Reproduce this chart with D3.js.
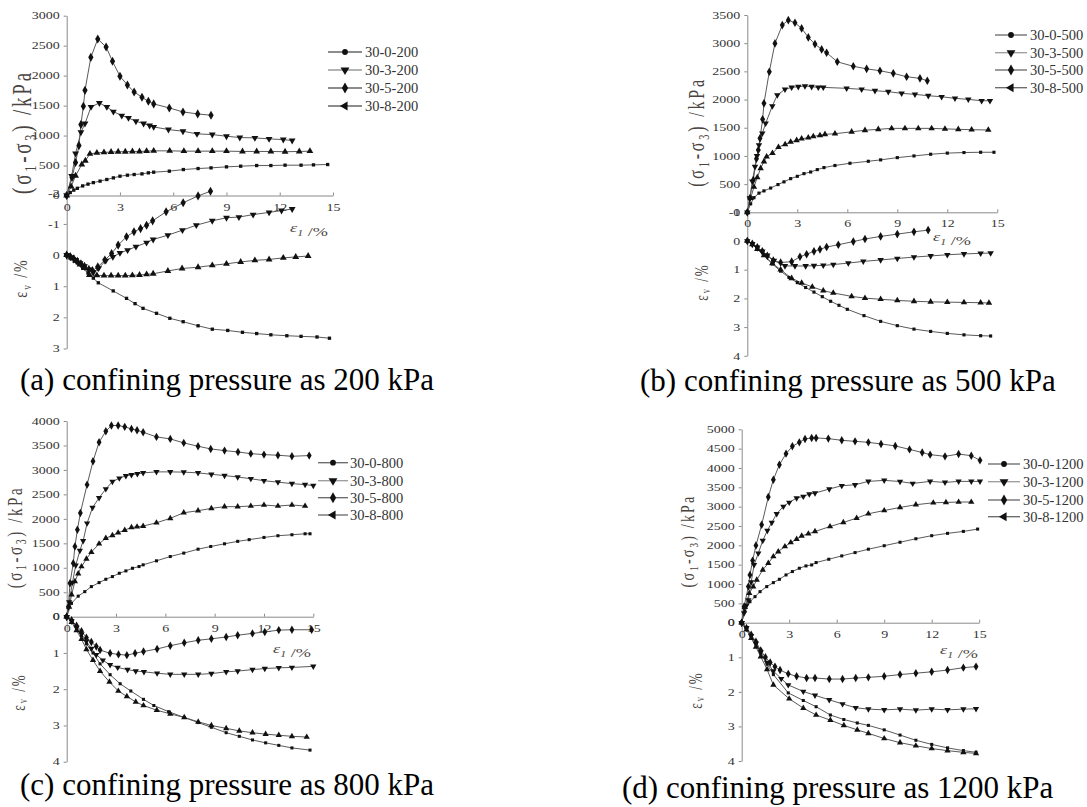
<!DOCTYPE html>
<html>
<head>
<meta charset="utf-8">
<script src="https://cdn.jsdelivr.net/npm/d3@7"></script>
<style>
  body { margin: 0; background: #fff; }
  svg { display: block; }
</style>
</head>
<body>
<svg id="chart" width="1087" height="807"></svg>
<script>
// ---- categories / ticks ----
const SERIES = ['30-0', '30-3', '30-5', '30-8'];
const PRESSURES = [200, 500, 800, 1200];
const CAPTIONS = [
  '(a) confining pressure as 200 kPa',
  '(b) confining pressure as 500 kPa',
  '(c) confining pressure as 800 kPa',
  '(d) confining pressure as 1200 kPa'
];
const STRAIN_TICKS = [0, 3, 6, 9, 12, 15];
const STRESS_TICKS_A = [0, 500, 1000, 1500, 2000, 2500, 3000];
const STRESS_TICKS_B = [0, 500, 1000, 1500, 2000, 2500, 3000, 3500];
const STRESS_TICKS_C = [0, 500, 1000, 1500, 2000, 2500, 3000, 3500, 4000];
const STRESS_TICKS_D = [0, 500, 1000, 1500, 2000, 2500, 3000, 3500, 4000, 4500, 5000];
const VOL_TICKS_A = [-2, -1, 0, 1, 2, 3];
const VOL_TICKS_B = [-1, 0, 1, 2, 3, 4];
const VOL_TICKS_C = [0, 1, 2, 3, 4];
const VOL_TICKS_D = [0, 1, 2, 3, 4];

// ---- (a) 200 kPa : [axial strain %, deviator stress kPa] / [axial strain %, volumetric strain %] ----
const a_dev_0 = [[0,0],[0.2,50],[0.4,90],[0.6,120],[0.9,160],[1.2,190],[1.5,215],[1.88,240],[2.26,267],[2.63,294],[3.0,322],[3.42,339],[3.8,350],[4.24,361],[4.6,378],[4.9,389],[5.78,406],[6.57,433],[7.4,450],[8.13,461],[9.0,478],[9.8,489],[10.7,500],[11.5,500],[12.3,506],[13.2,506],[13.9,511],[14.7,517]];
const a_dev_3 = [[0,0],[0.28,325],[0.5,700],[0.8,1056],[1.03,1200],[1.37,1478],[1.84,1544],[2.26,1478],[2.63,1400],[3.1,1333],[3.48,1294],[3.9,1239],[4.33,1200],[4.67,1167],[4.9,1144],[5.73,1100],[6.55,1072],[7.34,1028],[8.2,1017],[9.0,989],[9.75,967],[10.6,961],[11.4,945],[12.2,933],[12.7,917]];
const a_dev_5 = [[0,0],[0.3,300],[0.5,550],[0.69,833],[0.8,1183],[0.94,1489],[1.03,1755],[1.36,2305],[1.75,2611],[2.22,2478],[2.58,2239],[3.0,1989],[3.42,1844],[3.8,1728],[4.24,1639],[4.6,1572],[4.9,1528],[5.78,1461],[6.55,1394],[7.38,1361],[8.13,1339]];
const a_dev_8 = [[0,0],[0.25,150],[0.5,330],[0.85,517],[1.05,580],[1.31,694],[1.7,711],[2.1,720],[2.5,725],[2.9,730],[3.3,730],[3.7,735],[4.1,735],[4.5,740],[4.9,745],[5.8,745],[6.6,740],[7.4,740],[8.2,740],[9.0,740],[9.9,735],[10.7,735],[11.5,735],[12.3,730],[13.1,735],[13.7,740]];
const a_vol_0 = [[0,0],[0.3,0.1],[0.6,0.25],[0.9,0.42],[1.2,0.58],[1.5,0.74],[1.78,0.89],[2.62,1.15],[3.37,1.39],[3.85,1.56],[4.3,1.71],[5.06,1.87],[5.81,2.03],[6.56,2.14],[7.4,2.27],[8.2,2.38],[9.07,2.42],[9.9,2.48],[10.7,2.52],[11.5,2.56],[12.4,2.59],[13.2,2.61],[14.1,2.63],[14.8,2.67]];
const a_vol_3 = [[0,0],[0.25,0.07],[0.5,0.16],[0.75,0.26],[1.0,0.36],[1.25,0.46],[1.5,0.55],[1.8,0.42],[2.2,0.18],[2.6,0.06],[3.0,-0.07],[3.43,-0.16],[3.9,-0.27],[4.5,-0.4],[4.87,-0.5],[5.7,-0.64],[6.52,-0.8],[7.3,-0.96],[8.2,-1.1],[9.0,-1.2],[9.7,-1.22],[10.5,-1.3],[11.4,-1.37],[12.1,-1.43],[12.7,-1.48]];
const a_vol_5 = [[0,0],[0.2,0.05],[0.4,0.12],[0.6,0.2],[0.8,0.28],[1.0,0.36],[1.25,0.46],[1.45,0.5],[1.75,0.38],[2.15,0.16],[2.53,-0.05],[2.9,-0.32],[3.37,-0.59],[3.79,-0.75],[4.16,-0.85],[4.5,-0.96],[4.84,-1.1],[5.6,-1.39],[6.56,-1.68],[7.4,-1.9],[8.1,-2.05]];
const a_vol_8 = [[0,0],[0.25,0.08],[0.5,0.18],[0.75,0.3],[1.0,0.42],[1.28,0.64],[1.7,0.65],[2.1,0.66],[2.5,0.66],[2.9,0.66],[3.3,0.66],[3.7,0.65],[4.1,0.64],[4.5,0.62],[4.87,0.6],[5.7,0.51],[6.5,0.43],[7.4,0.39],[8.2,0.33],[9.0,0.28],[9.8,0.22],[10.6,0.17],[11.4,0.14],[12.2,0.09],[12.9,0.06],[13.6,0.03]];

// ---- (b) 500 kPa ----
const b_dev_0 = [[0,0],[0.2,150],[0.4,260],[0.7,340],[1.0,380],[1.4,430],[1.84,492],[2.2,540],[2.6,597],[3.0,638],[3.4,686],[3.8,715],[4.2,757],[4.6,793],[5.26,830],[6.16,870],[7.26,905],[8,930],[9,970],[10,1000],[11,1030],[12,1050],[13,1060],[14,1065],[14.8,1065]];
const b_dev_3 = [[0,0],[0.15,250],[0.3,550],[0.46,809],[0.58,1000],[0.7,1193],[0.9,1400],[1.1,1578],[1.5,1885],[1.8,2080],[2.26,2181],[2.66,2216],[3.06,2228],[3.46,2240],[3.86,2228],[4.26,2216],[4.56,2216],[5.96,2199],[6.86,2181],[7.66,2157],[8.46,2140],[9.26,2110],[10.06,2092],[10.86,2068],[11.66,2050],[12.46,2021],[13.26,2003],[14.06,1979],[14.56,1979]];
const b_dev_5 = [[0,0],[0.15,250],[0.36,573],[0.55,950],[0.66,1105],[0.76,1312],[0.92,1649],[1.0,1933],[1.32,2493],[1.66,2996],[2.1,3321],[2.46,3409],[2.86,3362],[3.26,3262],[3.66,3103],[4.06,2984],[4.46,2890],[4.76,2830],[5.4,2670],[6.36,2590],[7.16,2545],[7.96,2511],[8.76,2465],[9.56,2405],[10.36,2376],[10.8,2333]];
const b_dev_8 = [[0,0],[0.2,250],[0.4,450],[0.6,620],[0.8,780],[1.0,900],[1.16,986],[1.51,1050],[1.87,1156],[2.27,1205],[2.6,1247],[2.96,1277],[3.26,1305],[3.66,1323],[3.96,1347],[4.36,1365],[4.66,1383],[5.26,1394],[6.26,1428],[7.06,1455],[7.86,1472],[8.66,1489],[9.46,1489],[10.26,1489],[11.06,1489],[11.86,1480],[12.66,1472],[13.46,1465],[14.46,1460]];
const b_vol_0 = [[0,0],[0.3,0.12],[0.6,0.28],[1.0,0.5],[1.5,0.8],[2.0,1.05],[2.5,1.27],[3.0,1.45],[3.5,1.62],[4.0,1.78],[4.5,1.94],[5.0,2.1],[5.5,2.24],[6.0,2.38],[7.0,2.6],[8,2.8],[9,2.95],[10,3.07],[11,3.15],[12,3.22],[13,3.27],[14,3.3],[14.6,3.31]];
const b_vol_3 = [[0,0],[0.3,0.1],[0.6,0.22],[0.9,0.36],[1.2,0.5],[1.6,0.68],[2.26,0.87],[2.86,0.87],[3.5,0.87],[4.0,0.86],[4.56,0.85],[5.16,0.82],[6.06,0.77],[6.96,0.71],[8,0.66],[9,0.61],[10,0.56],[11,0.52],[12,0.48],[13,0.45],[14,0.43],[14.6,0.42]];
const b_vol_5 = [[0,0],[0.3,0.1],[0.6,0.22],[0.9,0.36],[1.2,0.52],[1.56,0.68],[2.0,0.75],[2.66,0.72],[3.16,0.55],[3.56,0.46],[4.0,0.36],[4.36,0.29],[4.76,0.21],[5.46,0.13],[6.36,0.02],[7.06,-0.07],[8,-0.16],[9,-0.24],[10,-0.32],[10.85,-0.38]];
const b_vol_8 = [[0,0],[0.3,0.12],[0.6,0.28],[1.0,0.5],[1.5,0.78],[2.0,1.0],[2.66,1.3],[3.26,1.46],[3.9,1.6],[4.56,1.73],[5.16,1.81],[6.26,1.93],[7.06,1.99],[8,2.03],[9,2.07],[10,2.1],[11,2.12],[12,2.13],[13,2.14],[14,2.15],[14.5,2.16]];

// ---- (c) 800 kPa ----
const c_dev_0 = [[0,0],[0.29,274],[0.7,420],[1.1,512],[1.5,615],[1.97,697],[2.38,765],[2.78,820],[3.2,888],[3.6,936],[4.0,990],[4.4,1025],[4.65,1060],[5.46,1142],[6.3,1230],[7.12,1300],[7.99,1380],[8.76,1435],[9.6,1490],[10.4,1540],[11.1,1575],[12.0,1620],[12.85,1655],[13.7,1675],[14.5,1695],[14.8,1695]];
const c_dev_3 = [[0,0],[0.15,300],[0.35,700],[0.55,1050],[0.8,1350],[1.0,1550],[1.24,1910],[1.57,2230],[1.97,2430],[2.38,2610],[2.78,2760],[3.2,2830],[3.6,2880],[3.94,2900],[4.3,2920],[4.65,2940],[5.46,2960],[6.3,2960],[7.12,2955],[7.99,2940],[8.8,2910],[9.6,2885],[10.4,2855],[11.2,2820],[12.0,2780],[12.85,2750],[13.7,2720],[14.5,2700],[15.0,2680]];
const c_dev_5 = [[0,0],[0.1,205],[0.2,684],[0.4,1094],[0.5,1434],[0.65,1776],[0.83,2118],[1.24,2699],[1.6,3176],[1.97,3566],[2.38,3791],[2.72,3908],[3.13,3908],[3.53,3880],[3.94,3839],[4.28,3811],[4.65,3770],[5.46,3675],[6.3,3634],[7.12,3552],[7.99,3484],[8.76,3429],[9.6,3395],[10.42,3367],[11.2,3333],[12.0,3313],[12.85,3300],[13.7,3279],[14.75,3293]];
const c_dev_8 = [[0,0],[0.15,200],[0.3,450],[0.5,720],[0.7,880],[0.9,1025],[1.2,1180],[1.5,1320],[1.97,1490],[2.38,1605],[2.78,1660],[3.13,1715],[3.53,1770],[3.94,1824],[4.28,1838],[4.65,1852],[5.46,1920],[6.3,2010],[7.12,2125],[7.99,2166],[8.8,2214],[9.6,2249],[10.4,2249],[11.2,2262],[12.0,2283],[12.85,2262],[13.7,2283],[14.5,2262]];
const c_vol_0 = [[0,0],[0.3,0.12],[0.6,0.32],[0.9,0.52],[1.2,0.75],[1.6,1.0],[2.03,1.3],[2.64,1.6],[3.25,1.85],[3.9,2.05],[4.67,2.28],[5.3,2.45],[6.2,2.62],[7.15,2.78],[8.0,2.92],[8.8,3.05],[9.7,3.2],[10.5,3.3],[11.3,3.4],[12.1,3.48],[12.9,3.55],[13.7,3.62],[14.8,3.68]];
const c_vol_3 = [[0,0],[0.3,0.12],[0.6,0.3],[0.9,0.48],[1.2,0.68],[1.5,0.88],[1.8,1.05],[2.2,1.2],[2.64,1.33],[3.1,1.4],[3.7,1.46],[4.2,1.5],[4.7,1.52],[5.5,1.56],[6.3,1.59],[7.15,1.59],[8.0,1.59],[8.8,1.57],[9.7,1.52],[10.4,1.5],[11.3,1.46],[12.05,1.43],[12.9,1.41],[13.7,1.4],[15.0,1.37]];
const c_vol_5 = [[0,0],[0.3,0.1],[0.6,0.25],[0.9,0.4],[1.2,0.58],[1.5,0.7],[1.8,0.82],[2.03,0.92],[2.64,1.01],[3.15,1.04],[3.66,1.06],[4.16,1.01],[4.67,0.96],[5.5,0.89],[6.3,0.8],[7.15,0.72],[8.0,0.65],[8.8,0.61],[9.7,0.56],[10.4,0.51],[11.3,0.46],[12.05,0.42],[12.9,0.37],[13.7,0.36],[14.9,0.36]];
const c_vol_8 = [[0,0],[0.3,0.15],[0.6,0.38],[0.9,0.62],[1.2,0.9],[1.6,1.2],[2.03,1.5],[2.6,1.8],[3.14,2.05],[3.66,2.2],[4.2,2.35],[4.67,2.45],[5.48,2.58],[6.3,2.68],[7.15,2.78],[8.0,2.9],[8.8,3.0],[9.7,3.08],[10.5,3.15],[11.3,3.2],[12.1,3.24],[12.9,3.27],[13.7,3.3],[14.6,3.32]];

// ---- (d) 1200 kPa ----
const d_dev_0 = [[0,0],[0.2,300],[0.52,544],[0.84,674],[1.16,803],[1.58,933],[2.0,1036],[2.38,1122],[2.8,1235],[3.2,1322],[3.64,1408],[4.06,1468],[4.42,1494],[4.7,1555],[5.5,1640],[6.32,1727],[7.16,1813],[8.0,1900],[9,1990],[10,2080],[11,2170],[12,2250],[13,2310],[14,2360],[14.9,2420]];
const d_dev_3 = [[0,0],[0.15,250],[0.3,450],[0.42,588],[0.6,1050],[0.78,1495],[1.05,1797],[1.33,2124],[1.62,2383],[1.9,2590],[2.21,2816],[2.63,3005],[3.0,3109],[3.47,3223],[3.89,3264],[4.27,3326],[4.63,3352],[5.53,3456],[6.32,3541],[7.16,3566],[8.0,3653],[9,3680],[10,3650],[10.8,3600],[11.9,3653],[12.84,3627],[13.7,3653],[14.5,3653],[15.05,3653]];
const d_dev_5 = [[0,0],[0.15,415],[0.42,933],[0.52,1236],[0.69,1606],[0.9,1995],[1.26,2531],[1.68,3249],[2.0,3697],[2.38,4085],[2.8,4370],[3.2,4560],[3.64,4663],[4.0,4751],[4.42,4777],[4.7,4777],[5.47,4759],[6.32,4715],[7.16,4689],[8.0,4663],[8.8,4620],[9.7,4570],[10.6,4480],[11.4,4400],[11.9,4345],[12.84,4301],[13.7,4360],[14.5,4318],[15.05,4197]];
const d_dev_8 = [[0,0],[0.2,400],[0.48,761],[0.73,933],[0.95,1106],[1.33,1365],[1.68,1538],[2.0,1710],[2.31,1839],[2.73,1969],[3.1,2073],[3.47,2160],[3.79,2246],[4.21,2298],[4.63,2358],[5.58,2487],[6.42,2591],[7.26,2704],[8.0,2816],[9,2900],[10,2980],[11,3050],[12.1,3100],[12.9,3110],[13.7,3120],[14.5,3120]];
const d_vol_0 = [[0,0],[0.3,0.16],[0.6,0.4],[0.9,0.62],[1.2,0.88],[1.6,1.2],[2.0,1.5],[2.94,2.03],[3.89,2.25],[4.7,2.43],[5.6,2.67],[6.45,2.8],[7.3,2.9],[8.0,2.97],[9,3.1],[10,3.25],[11,3.4],[12,3.52],[13,3.62],[14,3.7],[14.8,3.75]];
const d_vol_3 = [[0,0],[0.3,0.15],[0.6,0.38],[0.9,0.6],[1.2,0.85],[1.6,1.15],[2.0,1.4],[2.5,1.62],[2.94,1.8],[3.89,1.99],[4.63,2.1],[5.53,2.23],[6.37,2.35],[7.2,2.46],[8.0,2.5],[9,2.52],[10,2.5],[11,2.53],[12,2.5],[13,2.52],[14,2.5],[14.8,2.49]];
const d_vol_5 = [[0,0],[0.3,0.15],[0.6,0.35],[0.9,0.55],[1.2,0.8],[1.5,1.0],[1.8,1.15],[2.1,1.27],[2.42,1.37],[2.94,1.48],[3.47,1.55],[4.1,1.6],[4.63,1.6],[5.53,1.63],[6.37,1.63],[7.2,1.6],[8.0,1.58],[9,1.55],[10,1.5],[11,1.46],[12,1.42],[13,1.37],[14,1.3],[14.8,1.27]];
const d_vol_8 = [[0,0],[0.3,0.2],[0.6,0.45],[0.9,0.7],[1.2,0.98],[1.6,1.35],[2.0,1.8],[3.0,2.2],[3.89,2.47],[4.7,2.67],[5.6,2.82],[6.45,2.97],[7.3,3.1],[8.0,3.2],[9,3.35],[10,3.47],[11,3.56],[12,3.64],[13,3.7],[14,3.75],[14.8,3.78]];

// ---- layout of the four scanned sub-figures (pixel positions) ----
const FONT = '"Liberation Serif", "Times New Roman", serif';
const HS = 1.4;            // scanned figures are stretched horizontally
const LINE = '#5a5a5a', INK = '#111', AXIS = '#8a8a8a', LABEL = '#4a4542';

const panels = [
  { x0: 66.7, x15: 333, y0: 195.5, yTop: 15.7, vTop: 192.8, vBot: 348.5,
    qTicks: STRESS_TICKS_A, vTicks: VOL_TICKS_A, dev: [a_dev_0, a_dev_3, a_dev_5, a_dev_8], vol: [a_vol_0, a_vol_3, a_vol_5, a_vol_8],
    leg: { x1: 328, x2: 362, tx: 365, ys: [52, 70, 88, 106] },
    eps: [290, 232], ev: [22, 278, 14], q: [25, 132, 19, 2.8], cap: [20, 390], ms: 1 },
  { x0: 747.3, x15: 997.3, y0: 212.3, yTop: 15, vTop: 212.3, vBot: 355.8,
    qTicks: STRESS_TICKS_B, vTicks: VOL_TICKS_B, dev: [b_dev_0, b_dev_3, b_dev_5, b_dev_8], vol: [b_vol_0, b_vol_3, b_vol_5, b_vol_8],
    leg: { x1: 995, x2: 1027, tx: 1030, ys: [35, 52.7, 70, 87.7] },
    eps: [933, 241], ev: [703, 282, 13], q: [699, 132, 16, 2.8], cap: [640, 391], ms: 0.9 },
  { x0: 66.7, x15: 313.3, y0: 616.7, yTop: 421, vTop: 616.7, vBot: 761.7,
    qTicks: STRESS_TICKS_C, vTicks: VOL_TICKS_C, dev: [c_dev_0, c_dev_3, c_dev_5, c_dev_8], vol: [c_vol_0, c_vol_3, c_vol_5, c_vol_8],
    leg: { x1: 318, x2: 348, tx: 350, ys: [462.7, 480.7, 497.7, 515] },
    eps: [273, 653], ev: [20, 692, 13], q: [17, 537, 15, 2.6], cap: [20, 795], ms: 0.85 },
  { x0: 741.7, x15: 979.2, y0: 622.7, yTop: 429.3, vTop: 622.7, vBot: 761,
    qTicks: STRESS_TICKS_D, vTicks: VOL_TICKS_D, dev: [d_dev_0, d_dev_3, d_dev_5, d_dev_8], vol: [d_vol_0, d_vol_3, d_vol_5, d_vol_8],
    leg: { x1: 988, x2: 1020, tx: 1023, ys: [464, 481.7, 500, 516.7] },
    eps: [940, 654], ev: [697, 690, 13], q: [689, 541, 14, 2.2], cap: [622, 798], ms: 0.85 }
];

const svg = d3.select('#chart');

// plot markers (legend uses a circle for 30-0 and a left triangle for 30-8)
function plotMarker(i, k) {
  if (i === 0) return { d: d3.symbol(d3.symbolSquare, 11 * k)(), rot: 0 };
  if (i === 1) return { d: d3.symbol(d3.symbolTriangle, 20 * k)(), rot: 180 };
  if (i === 2) return { d: d3.symbol(d3.symbolDiamond, 24 * k)(), rot: 0 };
  return { d: d3.symbol(d3.symbolTriangle, 20 * k)(), rot: 0 };
}
function legendMarker(i) {
  if (i === 0) return { d: d3.symbol(d3.symbolCircle, 26)(), rot: 0 };
  if (i === 1) return { d: d3.symbol(d3.symbolTriangle, 34)(), rot: 180 };
  if (i === 2) return { d: d3.symbol(d3.symbolDiamond, 34)(), rot: 0 };
  return { d: d3.symbol(d3.symbolTriangle, 34)(), rot: -90 };
}

// text with subscripts: parts = [[text, isSub], ...]
function rich(sel, parts, fs) {
  let down = false;
  parts.forEach(([t, sub]) => {
    const ts = sel.append('tspan').text(t);
    if (sub) { ts.attr('font-size', fs * 0.65).attr('dy', down ? 0 : fs * 0.28); down = true; }
    else { ts.attr('font-size', fs).attr('dy', down ? -fs * 0.28 : 0); down = false; }
  });
}

function styleTicks(g) {
  g.select('.domain').attr('stroke', AXIS);
  g.selectAll('.tick line').attr('stroke', AXIS);
  g.selectAll('.tick text')
    .attr('font-family', FONT).attr('font-size', 10).attr('fill', '#333')
    .attr('transform', `scale(${HS},1)`);
}
const plain = d => String(d);   // hyphen-minus, as in the scanned figure

panels.forEach((p, pi) => {
  const g = svg.append('g');
  const x = d3.scaleLinear().domain([0, 15]).range([p.x0, p.x15]);
  const yq = d3.scaleLinear().domain([0, d3.max(p.qTicks)]).range([p.y0, p.yTop]);
  const yv = d3.scaleLinear().domain(d3.extent(p.vTicks)).range([p.vTop, p.vBot]);

  // axes
  g.append('g').attr('transform', `translate(${p.x0},0)`)
    .call(d3.axisLeft(yq).tickValues(p.qTicks).tickSizeInner(3).tickSizeOuter(0).tickPadding(2).tickFormat(plain))
    .call(styleTicks);
  g.append('g').attr('transform', `translate(${p.x0},0)`)
    .call(d3.axisLeft(yv).tickValues(p.vTicks).tickSizeInner(3).tickSizeOuter(0).tickPadding(2).tickFormat(plain))
    .call(styleTicks);
  g.append('g').attr('transform', `translate(0,${p.y0})`)
    .call(d3.axisBottom(x).tickValues(STRAIN_TICKS).tickSizeInner(-3).tickSizeOuter(0).tickPadding(8).tickFormat(plain))
    .call(styleTicks);

  // curves
  const lq = d3.line().x(d => x(d[0])).y(d => yq(d[1]));
  const lv = d3.line().x(d => x(d[0])).y(d => yv(d[1]));
  const curves = [];
  SERIES.forEach((s, i) => {
    curves.push({ i, data: p.dev[i], line: lq, ys: yq });
    curves.push({ i, data: p.vol[i], line: lv, ys: yv });
  });
  curves.forEach(c => {
    g.append('path').datum(c.data)
      .attr('d', c.line).attr('fill', 'none')
      .attr('stroke', LINE).attr('stroke-width', 1);
  });
  curves.forEach(c => {
    const m = plotMarker(c.i, p.ms);
    g.append('g').selectAll('path').data(c.data).join('path')
      .attr('d', m.d)
      .attr('transform', d => `translate(${x(d[0])},${c.ys(d[1])}) rotate(${m.rot})`)
      .attr('fill', INK);
  });

  // axis titles
  const et = g.append('text')
    .attr('transform', `translate(${p.eps[0]},${p.eps[1]}) scale(${HS},1)`)
    .attr('font-family', FONT).attr('fill', LABEL);
  rich(et.append('tspan').attr('font-style', 'italic'), [['ε', false], ['1', true]], 13);
  et.append('tspan').attr('font-size', 13).attr('dy', 0).text(' /%');

  const vt = g.append('text')
    .attr('transform', `translate(${p.ev[0]},${p.ev[1]}) scale(${HS},1) rotate(-90)`)
    .attr('text-anchor', 'middle').attr('dominant-baseline', 'middle')
    .attr('font-family', FONT).attr('fill', LABEL).attr('letter-spacing', 2);
  rich(vt, [['ε', false], ['v', true], [' /%', false]], p.ev[2]);

  const qt = g.append('text')
    .attr('transform', `translate(${p.q[0]},${p.q[1]}) scale(${HS},1) rotate(-90)`)
    .attr('text-anchor', 'middle').attr('dominant-baseline', 'middle')
    .attr('font-family', FONT).attr('fill', LABEL).attr('letter-spacing', p.q[3]);
  rich(qt, [['(σ', false], ['1', true], ['-σ', false], ['3', true], [') /kPa', false]], p.q[2]);

  // legend
  SERIES.forEach((s, i) => {
    const y = p.leg.ys[i];
    g.append('line').attr('x1', p.leg.x1).attr('x2', p.leg.x2).attr('y1', y).attr('y2', y)
      .attr('stroke', i === 1 ? '#9a9a9a' : '#666').attr('stroke-width', 1.3);
    const m = legendMarker(i);
    g.append('path').attr('d', m.d)
      .attr('transform', `translate(${(p.leg.x1 + p.leg.x2) / 2},${y}) rotate(${m.rot})`)
      .attr('fill', INK);
    g.append('text').attr('x', p.leg.tx).attr('y', y).attr('dy', '0.34em')
      .attr('font-family', FONT).attr('font-size', 14.5).attr('fill', '#333')
      .text(`${s}-${PRESSURES[pi]}`);
  });

  // caption
  g.append('text').attr('x', p.cap[0]).attr('y', p.cap[1])
    .attr('font-family', FONT).attr('font-size', 31).attr('fill', '#000')
    .text(CAPTIONS[pi]);
});
</script>
</body>
</html>
